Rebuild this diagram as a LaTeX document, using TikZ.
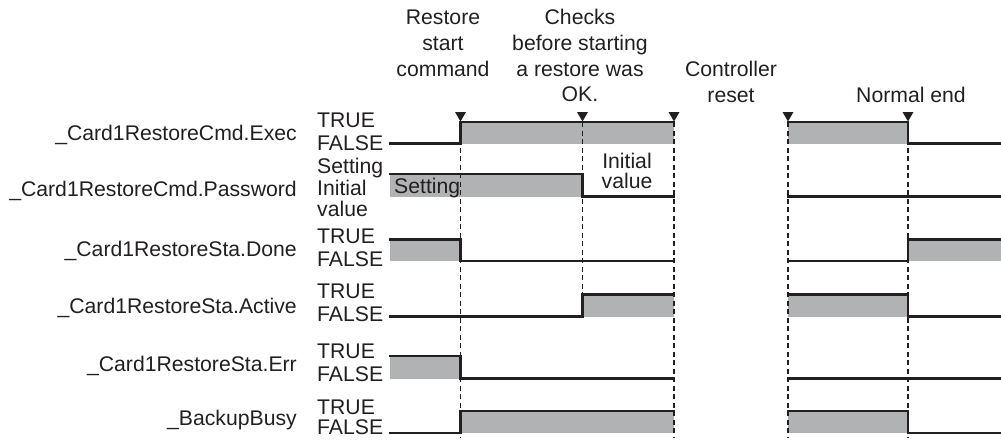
\documentclass[tikz,border=0pt]{standalone}
\usepackage{fontspec}
\setmainfont{Liberation Sans}
\definecolor{ink}{HTML}{231F20}
\definecolor{sgrey}{HTML}{B1B2B4}
\begin{document}
\begin{tikzpicture}[x=1pt,y=-1pt,
  sig/.style={draw=ink,line width=2.3pt,line join=miter,line cap=rect},
  gfill/.style={fill=sgrey},
  vdash/.style={draw=ink,line width=1.8pt,dash pattern=on 5pt off 3.5pt},
  tri/.style={fill=ink},
  lbl/.style={font=\fontsize{21.2}{21.5}\selectfont,inner sep=0pt,text=ink},
  toplbl/.style={font=\fontsize{21.2}{25.8}\selectfont,inner sep=0pt,text=ink,align=center,anchor=base}
]
\useasboundingbox (0,0) rectangle (1001,439);
\def\Xs{390}\def\Xa{460.5}\def\Xb{582.5}\def\Xc{674}\def\Xd{788}\def\Xe{908}\def\Xf{1001}
\def\TA{122}\def\FA{143.5}
\def\TB{174}\def\FB{196.5}
\def\TC{239.5}\def\FC{261}
\def\TD{294.5}\def\FD{316.5}
\def\TE{356}\def\FE{378.5}
\def\TF{411}\def\FF{433}

% grey fills
\fill[gfill] (\Xa,\TA) rectangle (\Xc,\FA);
\fill[gfill] (\Xd,\TA) rectangle (\Xe,\FA);
\fill[gfill] (\Xs,\TB) rectangle (\Xb,\FB);
\fill[gfill] (\Xs,\TC) rectangle (\Xa,\FC);
\fill[gfill] (\Xe,\TC) rectangle (\Xf,\FC);
\fill[gfill] (\Xb,\TD) rectangle (\Xc,\FD);
\fill[gfill] (\Xd,\TD) rectangle (\Xe,\FD);
\fill[gfill] (\Xs,\TE) rectangle (\Xa,\FE);
\fill[gfill] (\Xa,\TF) rectangle (\Xc,\FF);
\fill[gfill] (\Xd,\TF) rectangle (\Xe,\FF);

% dashed guide lines
\draw[vdash] (\Xa,\TA) -- (\Xa,438);
\draw[vdash] (\Xb,\TA) -- (\Xb,\TD);
\draw[vdash] (\Xc,\TA) -- (\Xc,438);
\draw[vdash] (\Xd,\TA) -- (\Xd,438);
\draw[vdash] (\Xe,\TA) -- (\Xe,438);

% signals
\draw[sig] (\Xs,\FA) -- (\Xa,\FA) -- (\Xa,\TA) -- (\Xc,\TA);
\draw[sig] (\Xd,\TA) -- (\Xe,\TA) -- (\Xe,\FA) -- (\Xf,\FA);
\draw[sig] (\Xs,\TB) -- (\Xb,\TB) -- (\Xb,\FB) -- (\Xc,\FB);
\draw[sig] (\Xd,\FB) -- (\Xf,\FB);
\draw[sig] (\Xs,\TC) -- (\Xa,\TC) -- (\Xa,\FC) -- (\Xc,\FC);
\draw[sig] (\Xd,\FC) -- (\Xe,\FC) -- (\Xe,\TC) -- (\Xf,\TC);
\draw[sig] (\Xs,\FD) -- (\Xb,\FD) -- (\Xb,\TD) -- (\Xc,\TD);
\draw[sig] (\Xd,\TD) -- (\Xe,\TD) -- (\Xe,\FD) -- (\Xf,\FD);
\draw[sig] (\Xs,\TE) -- (\Xa,\TE) -- (\Xa,\FE) -- (\Xc,\FE);
\draw[sig] (\Xd,\FE) -- (\Xf,\FE);
\draw[sig] (\Xs,\FF) -- (\Xa,\FF) -- (\Xa,\TF) -- (\Xc,\TF);
\draw[sig] (\Xd,\TF) -- (\Xe,\TF) -- (\Xe,\FF) -- (\Xf,\FF);

% event triangles
\foreach \x in {\Xa,\Xb,\Xc,\Xd,\Xe}
  \fill[tri] (\x-5.5,112) -- (\x+5.5,112) -- (\x,121.5) -- cycle;

% top labels (anchor = baseline of last line)
\node[toplbl] (ev1) at (443,76) {Restore\\start\\command};
\node[toplbl] (ev2) at (580,101.8) {Checks\\before starting\\a restore was\\OK.};
\node[toplbl] (ev3) at (731,102) {Controller\\reset};
\node[toplbl] (ev4) at (911,102) {Normal end};

% signal names
\node[lbl,anchor=base east] (n1) at (297,140.5) {\_Card1RestoreCmd.Exec};
\node[lbl,anchor=base east] (n2) at (297,196) {\_Card1RestoreCmd.Password};
\node[lbl,anchor=base east] (n3) at (297,256.5) {\_Card1RestoreSta.Done};
\node[lbl,anchor=base east] (n4) at (297,313.5) {\_Card1RestoreSta.Active};
\node[lbl,anchor=base east] (n5) at (297,371) {\_Card1RestoreSta.Err};
\node[lbl,anchor=base east] (n6) at (297,425) {\_BackupBusy};

% level labels
\node[lbl,anchor=base west] (t1) at (317,\TA+5.5) {TRUE};
\node[lbl,anchor=base west] (f1) at (317,\FA+6.5) {FALSE};
\node[lbl,anchor=base west] (s2) at (317,173.5) {Setting};
\node[lbl,anchor=base west] (i2) at (317,195) {Initial};
\node[lbl,anchor=base west] (v2) at (317,216) {value};
\node[lbl,anchor=base west] (t3) at (317,\TC+4) {TRUE};
\node[lbl,anchor=base west] (f3) at (317,\FC+5) {FALSE};
\node[lbl,anchor=base west] (t4) at (317,\TD+4) {TRUE};
\node[lbl,anchor=base west] (f4) at (317,\FD+5) {FALSE};
\node[lbl,anchor=base west] (t5) at (317,\TE+2.5) {TRUE};
\node[lbl,anchor=base west] (f5) at (317,\FE+2.5) {FALSE};
\node[lbl,anchor=base west] (t6) at (317,\TF+3) {TRUE};
\node[lbl,anchor=base west] (f6) at (317,\FF+1) {FALSE};

% in-signal labels
\node[lbl,anchor=base west] (set) at (394,193.5) {Setting};
\node[lbl,anchor=base] (iv1) at (627,168.5) {Initial};
\node[lbl,anchor=base] (iv2) at (627,188.5) {value};
\end{tikzpicture}
\end{document}
